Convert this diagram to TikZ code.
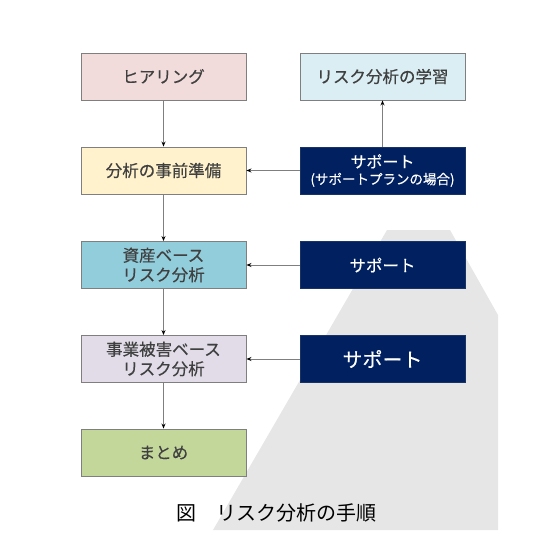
\documentclass[tikz,border=0pt]{standalone}
\usepackage{fontspec}
\newfontfamily\jp{Noto Sans CJK JP}
\newfontfamily\jpb[FakeBold=0.4]{Noto Sans CJK JP}
\usetikzlibrary{arrows.meta}
\definecolor{bordergrey}{HTML}{7F7F7F}
\definecolor{linegrey}{HTML}{7F7F7F}
\definecolor{txtgrey}{HTML}{404040}
\definecolor{navy}{HTML}{002060}
\definecolor{shapegrey}{HTML}{E6E6E6}
\definecolor{cpink}{HTML}{F2DCDB}
\definecolor{cblue}{HTML}{DAEEF3}
\definecolor{cyellow}{HTML}{FFF2CC}
\definecolor{cteal}{HTML}{92CDDC}
\definecolor{clav}{HTML}{E1DCE8}
\definecolor{cgreen}{HTML}{C4D79B}
\tikzset{
  box/.style={draw=bordergrey, line width=0.9pt, minimum width=165pt, minimum height=47pt,
    inner sep=1pt, align=center, text=txtgrey, font=\jpb\fontsize{16.5}{19.5}\selectfont},
  supbox/.style={box, fill=navy, draw=navy!80!gray, text=white},
  conn/.style={draw=linegrey, line width=0.9pt, -{Stealth[length=5pt,width=4pt,black]}}
}
\begin{document}
\begin{tikzpicture}[x=1pt,y=-1pt]
\useasboundingbox (0,0) rectangle (560,560);
\fill[shapegrey] (387,230) -- (450,230) -- (498,315) -- (498,530) -- (213,530) -- cycle;
\node[box, fill=cpink] (hear) at (163.5,76.5) {ヒアリング};
\node[box, fill=cblue] (learn) at (382.5,76.5) {リスク分析の学習};
\node[box, fill=cyellow] (prep) at (163.5,170.5) {分析の事前準備};
\node[supbox, font=\jpb\fontsize{16}{16.5}\selectfont] (sup1) at (382.5,170.5) {サポート\\{\fontsize{13.5}{16}\selectfont (サポートプランの場合)}};
\node[box, fill=cteal] (asset) at (163.5,265) {資産ベース\\リスク分析};
\node[supbox] (sup2) at (382.5,265) {サポート};
\node[box, fill=clav] (biz) at (163.5,359) {事業被害ベース\\リスク分析};
\node[supbox, font=\jpb\fontsize{20}{22}\selectfont] (sup3) at (382.5,359) {サポート};
\node[box, fill=cgreen] (sum) at (163.5,452.5) {まとめ};
\node[font=\jp\fontsize{20}{24}\selectfont, text=black] (cap) at (276,513) {図　リスク分析の手順};
\draw[conn] (hear) -- (prep);
\draw[conn] (prep) -- (asset);
\draw[conn] (asset) -- (biz);
\draw[conn] (biz) -- (sum);
\draw[conn] (sup1) -- (prep);
\draw[conn] (sup1) -- (learn);
\draw[conn] (sup2) -- (asset);
\draw[conn] (sup3) -- (biz);
\end{tikzpicture}
\end{document}
